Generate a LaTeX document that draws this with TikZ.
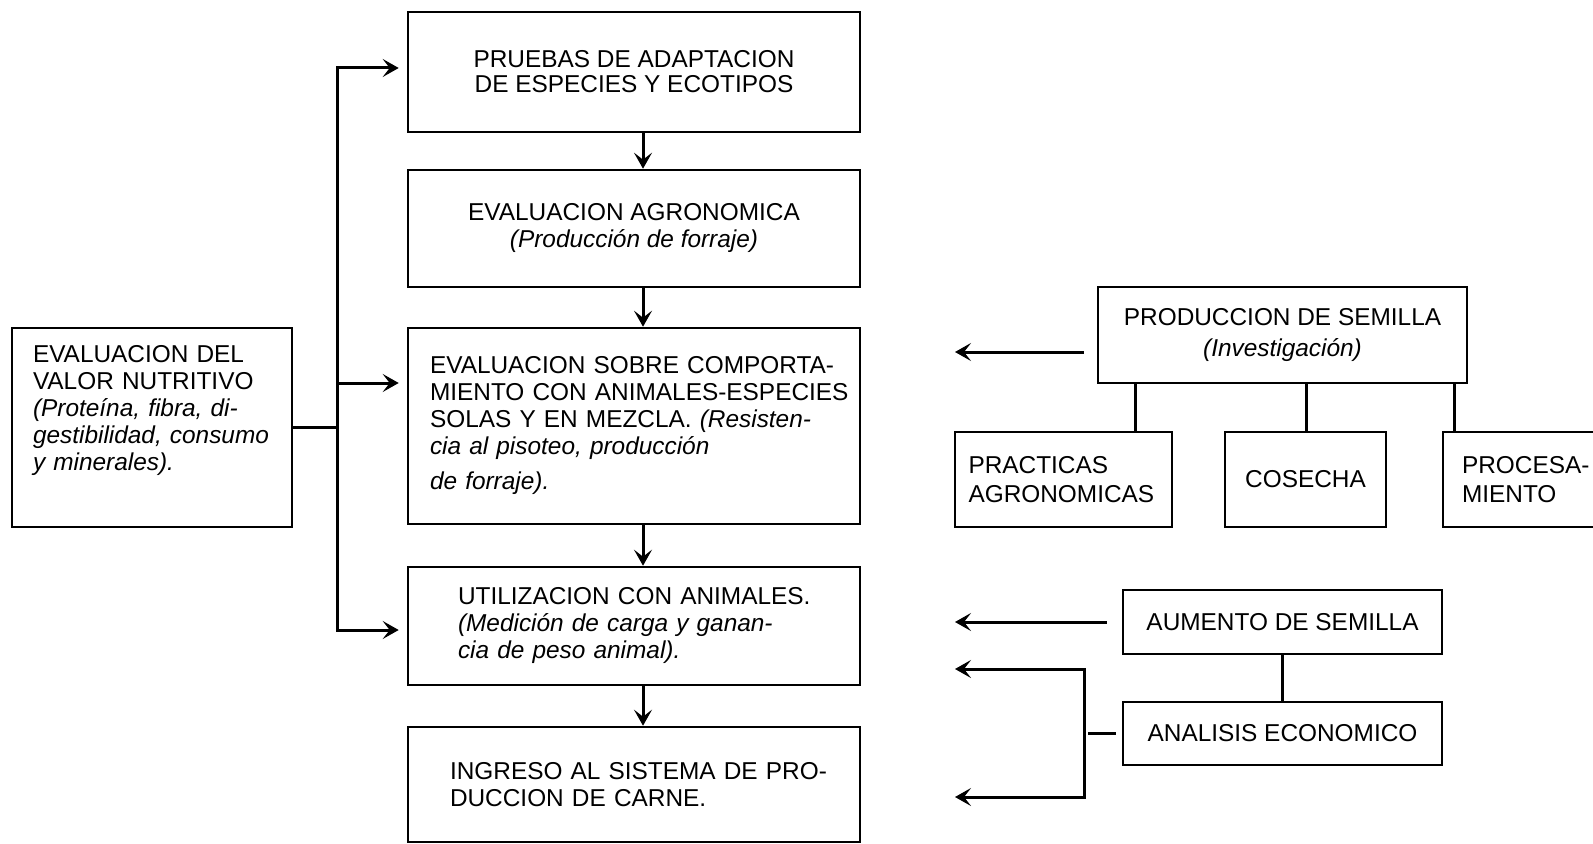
\documentclass[tikz,border=0pt]{standalone}
\usepackage{fontspec}
\setmainfont{Liberation Sans}
\usetikzlibrary{arrows.meta}
\begin{document}
\begin{tikzpicture}[x=0.5pt,y=-0.5pt,
  box/.style={draw, line width=1.3pt, inner sep=0pt, font=\fontsize{12.2}{13.5}\selectfont},
  ln/.style={line width=1.5pt},
  arr/.style={line width=1.5pt, -{Stealth[length=8pt,width=9pt,inset=3.5pt]}},
  arrboth/.style={line width=1.5pt, {Stealth[length=8pt,width=9pt,inset=3.5pt]}-{Stealth[length=8pt,width=9pt,inset=3.5pt]}}]
\useasboundingbox (0,0) rectangle (1593,844);

% main column
\node[box, minimum width=226pt, minimum height=60pt, align=center] (B1) at (634,72)
  {PRUEBAS DE ADAPTACION\\[-1pt]DE ESPECIES Y ECOTIPOS};
\node[box, minimum width=226pt, minimum height=58.5pt, align=center] (B2) at (634,228.5)
  {EVALUACION AGRONOMICA\\\textit{(Producción de forraje)}};
\node[box, minimum height=98pt, inner xsep=11pt, text width=204pt, align=left] (B3) at (634,426)
  {\mbox{EVALUACION SOBRE COMPORTA-}\\\mbox{MIENTO CON ANIMALES-ESPECIES}\\\mbox{SOLAS Y EN MEZCLA. \textit{(Resisten-}}\\\mbox{\textit{cia al pisoteo, producción}}\\[4pt]\mbox{\textit{de forraje).}}};
\node[box, minimum height=59pt, inner xsep=25pt, text width=176pt, align=left] (B4) at (634,626)
  {\mbox{UTILIZACION CON ANIMALES.}\\\mbox{\textit{(Medición de carga y ganan-}}\\\mbox{\textit{cia de peso animal).}}};
\node[box, minimum height=57.5pt, inner xsep=21pt, text width=184pt, align=left] (B5) at (634,784.5)
  {\mbox{INGRESO AL SISTEMA DE PRO-}\\\mbox{DUCCION DE CARNE.}};

% left box
\node[box, minimum height=99.5pt, inner xsep=10.5pt, text width=119pt, align=left] (L) at (152,427.5)
  {\mbox{EVALUACION DEL}\\\mbox{VALOR NUTRITIVO}\\\mbox{\textit{(Proteína, fibra, di-}}\\\mbox{\textit{gestibilidad, consumo}}\\\mbox{\textit{y minerales).}}\\[6pt]\mbox{}};

% right side
\node[box, minimum width=184.5pt, minimum height=48pt, align=center] (P) at (1282.5,335)
  {PRODUCCION DE SEMILLA\\[2pt]\textit{(Investigación)}};
\node[box, minimum height=47.5pt, inner xsep=6.75pt, text width=95pt, align=left] (S1) at (1063.5,479.5)
  {\mbox{PRACTICAS}\\[1pt]\mbox{AGRONOMICAS}};
\node[box, minimum width=80.5pt, minimum height=47.5pt, align=center] (S2) at (1305.5,479.5)
  {COSECHA};
\node[box, minimum height=47.5pt, inner xsep=9.5pt, text width=69.5pt, align=left] (S3) at (1531.5,479.5)
  {\mbox{PROCESA-}\\[1pt]\mbox{MIENTO}};
\node[box, minimum width=159.5pt, minimum height=32pt, align=center] (AUM) at (1282.5,622)
  {AUMENTO DE SEMILLA};
\node[box, minimum width=159.5pt, minimum height=31.5pt, align=center] (ANA) at (1282.5,733.5)
  {ANALISIS ECONOMICO};

% left bus
\coordinate (j1) at (337,68);
\coordinate (j3) at (337,383);
\coordinate (j4) at (337,630);
\draw[ln] (L.east) -- (L.east -| j1);
\draw[arrboth, shorten <=4pt, shorten >=4pt] (j1 -| B1.west) -- (j1) -- (j4) -- (j4 -| B4.west);
\draw[arr, shorten >=4pt] (j3) -- (j3 -| B3.west);

% down arrows
\coordinate (dx) at (643,0);
\draw[arr] (B1.south -| dx) -- (B2.north -| dx);
\draw[arr] (B2.south -| dx) -- (B3.north -| dx);
\draw[arr] (B3.south -| dx) -- (B4.north -| dx);
\draw[arr] (B4.south -| dx) -- (B5.north -| dx);

% right connectors
\coordinate (pA) at (955,352);
\draw[arr, shorten <=6.5pt] (pA -| P.west) -- (pA);
\coordinate (c1) at (1135,0);
\coordinate (c2) at (1306,0);
\coordinate (c3) at (1454,0);
\draw[ln] (P.south -| c1) -- (S1.north -| c1);
\draw[ln] (P.south -| c2) -- (S2.north -| c2);
\draw[ln] (P.south -| c3) -- (S3.north -| c3);
\coordinate (aA) at (955,622);
\draw[arr, shorten <=7.5pt] (AUM.west) -- (AUM.west -| aA);
\draw[ln] (AUM.south) -- (ANA.north);
\coordinate (k1) at (1084,669);
\coordinate (k2) at (1084,797);
\coordinate (e1) at (955,669);
\coordinate (e2) at (955,797);
\draw[arrboth] (e1) -- (k1) -- (k2) -- (e2);
\draw[ln] ([xshift=-3pt]ANA.west) -- ([xshift=-17pt]ANA.west);
\end{tikzpicture}
\end{document}
